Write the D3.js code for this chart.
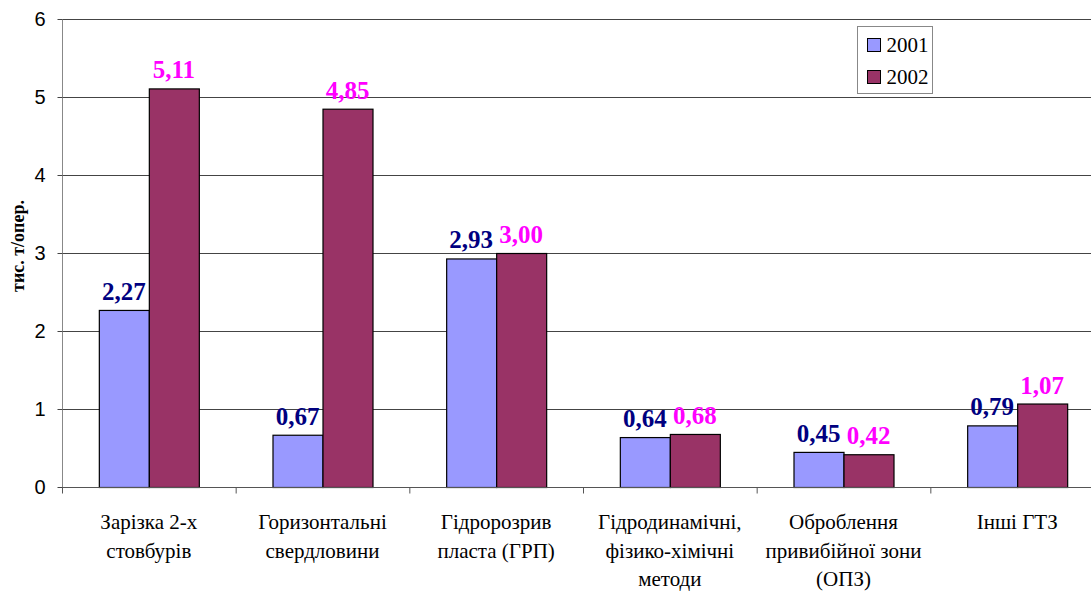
<!DOCTYPE html>
<html><head><meta charset="utf-8">
<script src="https://cdn.jsdelivr.net/npm/d3@7"></script>
<style>body{margin:0;background:#fff}svg{display:block}
.serif{font-family:"Liberation Serif","Times New Roman",Times,"DejaVu Serif",serif}
.sans{font-family:"Liberation Sans",Arial,sans-serif}
</style>
</head><body><svg id="c" width="1091" height="591"></svg>
<script>
const categories = [
  ["Зарізка 2-х","стовбурів"],
  ["Горизонтальні","свердловини"],
  ["Гідророзрив","пласта (ГРП)"],
  ["Гідродинамічні,","фізико-хімічні","методи"],
  ["Оброблення","привибійної зони","(ОПЗ)"],
  ["Інші ГТЗ"]
];
const series = ["2001","2002"];
const values2001 = [2.27, 0.67, 2.93, 0.64, 0.45, 0.79];
const values2002 = [5.11, 4.85, 3.00, 0.68, 0.42, 1.07];
const yTicks = [0,1,2,3,4,5,6];
const yTitle = "тис. т/опер.";
const colors = {"2001":"#9999ff","2002":"#993366"};
const labelColors = {"2001":"#000080","2002":"#ff00ff"};

const svg = d3.select("#c");
const x0 = d3.scaleBand().domain(d3.range(categories.length)).range([62,1104]).padding(0);
const y = d3.scaleLinear().domain([0,6]).range([487,19]);
const barW = 50;
const x1 = d3.scaleBand().domain(series).range([0,barW*2]);

// gridlines
svg.append("g").selectAll("line").data(yTicks.filter(d=>d>0)).join("line")
  .attr("x1",62).attr("x2",1091).attr("y1",d=>y(d)+0.5).attr("y2",d=>y(d)+0.5)
  .attr("stroke","#444").attr("stroke-width",1);

// y axis
const ya = svg.append("g").attr("transform","translate(62.5,0)")
  .call(d3.axisLeft(y).tickValues(yTicks).tickSize(5).tickPadding(12).tickFormat(d3.format("d")));
ya.attr("font-family",null).attr("font-size",null);
ya.select(".domain").attr("stroke","#888").attr("d","M0,"+y(6)+"V"+(y(0)+6));
ya.selectAll(".tick line").attr("stroke","#444");
ya.selectAll("text").attr("class","sans").style("font-size","20px").attr("fill","#000");

// bars
const data = [];
categories.forEach((c,i)=>{
  data.push({i, s:"2001", v:values2001[i]});
  data.push({i, s:"2002", v:values2002[i]});
});
const bx = d => x0(d.i) + x0.bandwidth()/2 - barW + x1(d.s);
svg.append("g").selectAll("rect").data(data).join("rect")
  .attr("x",d=>bx(d)+0.5).attr("y",d=>y(d.v)+0.5)
  .attr("width",barW).attr("height",d=>y(0)-y(d.v))
  .attr("fill",d=>colors[d.s]).attr("stroke","#000").attr("stroke-width",1.2);

// x axis
const xa = svg.append("g").attr("transform","translate(0,487.5)");
xa.append("line").attr("x1",62).attr("x2",1091).attr("stroke","#555");
xa.selectAll(".tk").data(d3.range(categories.length+1)).join("line")
  .attr("x1",d=>62.5+d*x0.step()).attr("x2",d=>62.5+d*x0.step()).attr("y1",0).attr("y2",6).attr("stroke","#555");

// category labels
const cl = svg.append("g");
categories.forEach((lines,i)=>{
  const t = cl.append("text").attr("class","serif").attr("x",x0(i)+x0.bandwidth()/2).attr("text-anchor","middle")
    .style("font-size","21px").attr("fill","#000");
  lines.forEach((l,k)=>t.append("tspan").attr("x",x0(i)+x0.bandwidth()/2).attr("y",529+k*28.5).text(l));
});

// value labels
svg.append("g").selectAll("text").data(data).join("text")
  .attr("class","serif")
  .attr("x",d=>bx(d)+barW/2).attr("y",d=>y(d.v)-10)
  .attr("text-anchor","middle")
  .style("font-weight","bold").style("font-size","25px")
  .attr("fill",d=>labelColors[d.s])
  .text(d=>d3.format(".2f")(d.v).replace(".",","));

// y title
svg.append("text").attr("class","serif").attr("transform","translate(24,246) rotate(-90)").attr("text-anchor","middle")
  .style("font-weight","bold").style("font-size","18px")
  .text(yTitle);

// legend
const lg = svg.append("g").attr("transform","translate(857.5,26.5)");
lg.append("rect").attr("width",75).attr("height",67).attr("fill","#fff").attr("stroke","#888");
series.forEach((s,k)=>{
  lg.append("rect").attr("x",10).attr("y",12+k*32).attr("width",13).attr("height",13)
    .attr("fill",colors[s]).attr("stroke","#000");
  lg.append("text").attr("class","serif").attr("x",29).attr("y",25+k*32)
    .style("font-size","21px").text(s);
});
</script></body></html>
